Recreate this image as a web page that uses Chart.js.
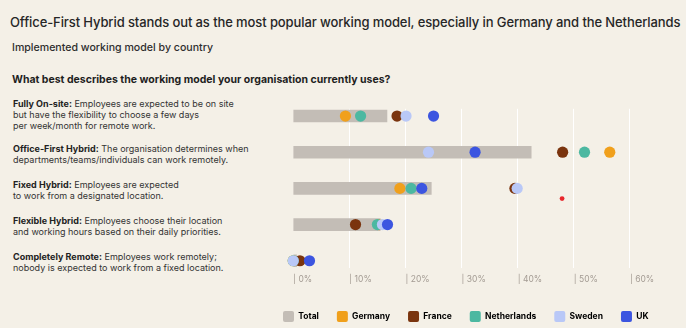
<!DOCTYPE html>
<html>
<head>
<meta charset="utf-8">
<script src="https://cdn.jsdelivr.net/npm/chart.js@4"></script>
<style>
  html, body { margin: 0; padding: 0; }
  body {
    width: 686px; height: 328px; overflow: hidden; position: relative;
    background: #f4f0e7; color: #2b2b2b;
  }
  #chart-wrap { position: absolute; left: 0; top: 0; width: 686px; height: 332px; }
  .title { position: absolute; left: 10px; top: 14px; font: 500 13px Inter, sans-serif; color: #262626; white-space: nowrap; letter-spacing: -0.1px; }
  .subtitle { position: absolute; left: 12px; top: 41px; font: 500 10.6px Inter, sans-serif; color: #2e2e2e; white-space: nowrap; }
  .question { position: absolute; left: 12px; top: 73px; font: 700 10.5px Inter, sans-serif; color: #1e1e1e; white-space: nowrap; }
  .row-label {
    position: absolute; left: 13px; font: 9px/11.2px Inter, sans-serif; color: #333;
    white-space: nowrap;
  }
  .row-label b { font-weight: 700; color: #222; }
</style>
</head>
<body>
<div class="title">Office-First Hybrid stands out as the most popular working model, especially in Germany and the Netherlands</div>
<div class="subtitle">Implemented working model by country</div>
<div class="question">What best describes the working model your organisation currently uses?</div>
<div id="labels"></div>
<div id="chart-wrap"><canvas id="chart" width="686" height="332"></canvas></div>
<script>
// ── Data ─────────────────────────────────────────────────────

const categories = ["Fully On-site", "Office-First Hybrid", "Fixed Hybrid", "Flexible Hybrid", "Completely Remote"];
const descriptions = [
  ["Employees are expected to be on site", "but have the flexibility to choose a few days", "per week/month for remote work."],
  ["The organisation determines when", "departments/teams/individuals can work remotely."],
  ["Employees are expected", "to work from a designated location."],
  ["Employees choose their location", "and working hours based on their daily priorities."],
  ["Employees work remotely;", "nobody is expected to work from a fixed location."],
];

const total       = [16.7, 42.4, 24.6, 15.5, 0.6];
const germany     = [9.3, 56.4, 19.0, 15.3, 0.0];
const france      = [18.5, 48.0, 39.5, 11.1, 1.2];
const netherlands = [12.0, 51.9, 21.0, 15.0, 0.0];
const sweden      = [20.1, 24.1, 39.9, 15.9, 0.0];
const uk          = [25.0, 32.4, 22.9, 16.8, 2.9];

// stray red marker seen in the source graphic (value, row position)
const strayMarker = [{ x: 47.9, y: 2.28 }];

const xTicks = [0, 10, 20, 30, 40, 50, 60];

const COLORS = {
  total: "#c3bdb6",
  germany: "#f0a01c",
  france: "#7a340e",
  netherlands: "#4cb8a1",
  sweden: "#b9c8f7",
  uk: "#3c55e0",
};

// ── Left-hand labels (HTML) ─────────────────────────────────

const firstLineTop = [97.5, 142.5, 178.5, 214.5, 251];
const labelBox = document.getElementById("labels");
categories.forEach((c, i) => {
  const div = document.createElement("div");
  div.className = "row-label";
  div.style.top = firstLineTop[i] + "px";
  div.innerHTML = `<b>${c}:</b> ` + descriptions[i].join("<br>");
  labelBox.appendChild(div);
});

// ── Chart ───────────────────────────────────────────────────

function toPoints(values) {
  return values.map((v, i) => ({ x: v, y: i }));
}

// lower `order` is painted on top
function dotSet(label, values, color, order) {
  return {
    type: "scatter",
    label,
    data: toPoints(values),
    backgroundColor: color,
    borderWidth: 0,
    pointRadius: 5.6,
    order,
  };
}

const tickFont = { family: "Inter", size: 8.5 };

new Chart(document.getElementById("chart"), {
  type: "bar",
  data: {
    datasets: [
      {
        type: "bar",
        label: "Total",
        indexAxis: "y",
        data: toPoints(total),
        backgroundColor: COLORS.total,
        barThickness: 12,
        order: 10,
      },
      dotSet("Germany", germany, COLORS.germany, 6),
      dotSet("France", france, COLORS.france, 5),
      dotSet("Netherlands", netherlands, COLORS.netherlands, 4),
      dotSet("Sweden", sweden, COLORS.sweden, 3),
      dotSet("UK", uk, COLORS.uk, 2),
      {
        type: "scatter",
        label: "marker",
        data: strayMarker,
        backgroundColor: "#e8262c",
        borderWidth: 0,
        pointRadius: 2.4,
        order: 1,
      },
    ],
  },
  options: {
    responsive: false,
    animation: false,
    layout: { padding: { left: 265, right: 10, top: 108.8, bottom: 0 } },
    plugins: {
      tooltip: { enabled: false },
      legend: {
        display: true,
        position: "bottom",
        align: "start",
        labels: {
          boxWidth: 11,
          boxHeight: 11,
          padding: 18,
          color: "#2a2a2a",
          font: { family: "Inter", size: 8.5, weight: "bold" },
          generateLabels(chart) {
            return chart.data.datasets
              .map((ds, i) => ({
                text: ds.label,
                fillStyle: ds.backgroundColor,
                strokeStyle: ds.backgroundColor,
                lineWidth: 0,
                borderRadius: 2,
                hidden: false,
                datasetIndex: i,
              }))
              .filter(item => item.text !== "marker");
          },
          useBorderRadius: true,
        },
      },
    },
    scales: {
      x: {
        type: "linear",
        position: "bottom",
        offset: false,
        min: -2,
        max: 68.2,
        afterBuildTicks: s => { s.ticks = xTicks.map(v => ({ value: v })); },
        afterFit: s => {
          s.height = 25;
          s.paddingLeft = 0;
          s.paddingRight = 0;
        },
        grid: {
          offset: false,
          color: ctx => (ctx.tick && ctx.tick.value === 0 ? "transparent" : "#ffffff"),
          lineWidth: 1,
          drawTicks: false,
        },
        border: { display: false },
        ticks: {
          align: "start",
          padding: 6,
          color: "#a39b93",
          font: tickFont,
          callback: v => "| " + v + "%",
        },
      },
      y: {
        type: "linear",
        position: "left",
        offset: false,
        min: -0.2,
        max: 4.2,
        reverse: true,
        afterFit: s => {
          s.width = 17;
          s.paddingTop = 0;
          s.paddingBottom = 0;
        },
        grid: { display: false, offset: false },
        border: { display: false },
        ticks: { display: false },
      },
    },
  },
});
</script>
</body>
</html>
